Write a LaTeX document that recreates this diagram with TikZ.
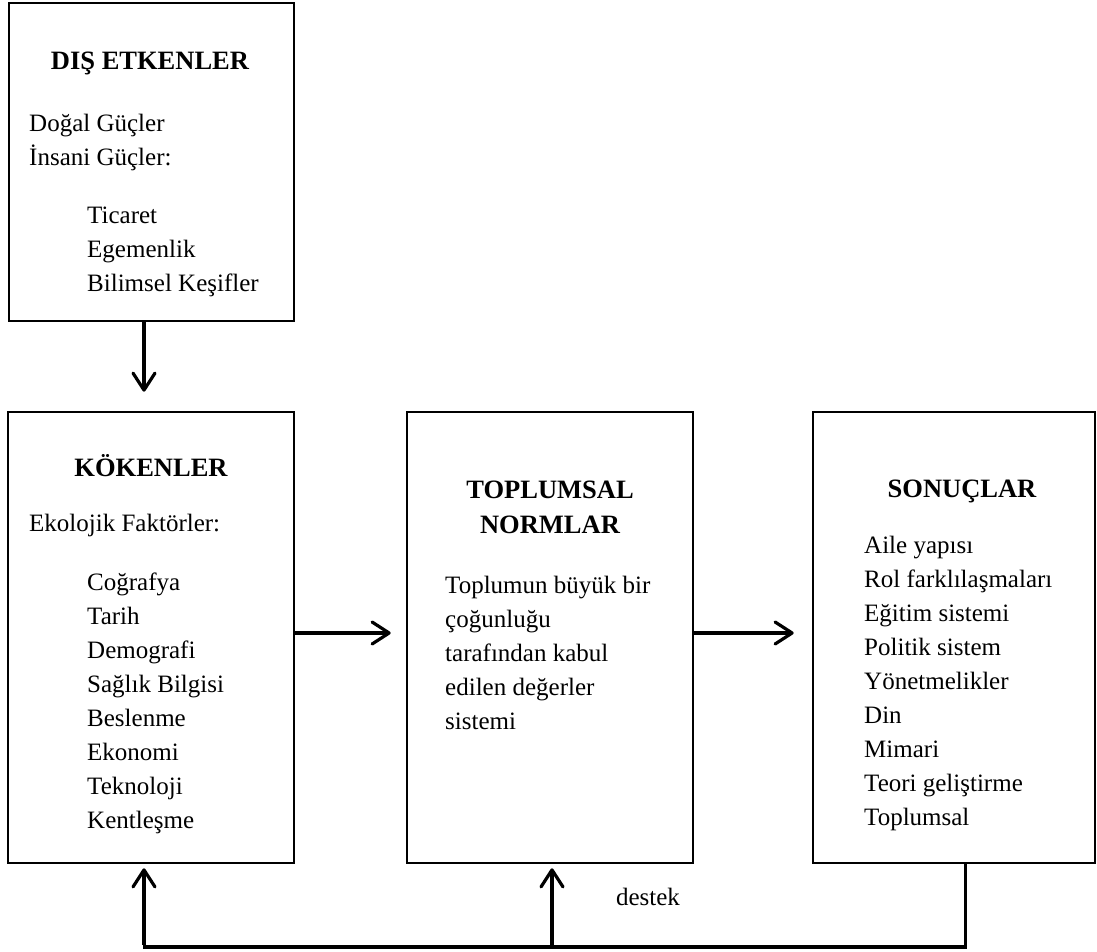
\documentclass[tikz,border=0pt]{standalone}
\usepackage{fontspec}
\setmainfont{Liberation Serif}
\usetikzlibrary{arrows.meta}

\begin{document}
\begin{tikzpicture}[x=1pt,y=-1pt,
  box/.style={draw,line width=2.6pt,rectangle,inner sep=0pt},
  title/.style={anchor=base,inner sep=0pt,align=center,
    font=\fontsize{26.5}{35}\selectfont\bfseries},
  txt/.style={anchor=base west,inner sep=0pt,align=left},
  arr/.style={line width=3.2pt,-{Straight Barb[length=17pt,width=22pt,round]}},
  backline/.style={line width=4.5pt}]
\useasboundingbox (0,0) rectangle (1097,952);
\fontsize{25}{34}\selectfont

% boxes
\node[box,minimum width=285pt,minimum height=318pt] (dis) at (151.5,162) {};
\node[box,minimum width=286pt,minimum height=451pt] (kok) at (151,637.5) {};
\node[box,minimum width=286pt,minimum height=451pt] (norm) at (550,637.5) {};
\node[box,minimum width=282pt,minimum height=451pt] (son) at (954,637.5) {};

% texts (multi-line nodes sit on their last baseline)
\node[title] (t0) at (150,70) {DIŞ ETKENLER};
\node[txt] (d0) at (29,166) {Doğal Güçler\\İnsani Güçler:};
\node[txt] (d1) at (87,291) {Ticaret\\Egemenlik\\Bilimsel Keşifler};

\node[title] (t1) at (151,476) {KÖKENLER};
\node[txt] (k0) at (29,531) {Ekolojik Faktörler:};
\node[txt] (k1) at (87,828) {Coğrafya\\Tarih\\Demografi\\Sağlık Bilgisi\\Beslenme\\Ekonomi\\Teknoloji\\Kentleşme};

\node[title] (t2) at (550,533) {TOPLUMSAL\\NORMLAR};
\node[txt] (n0) at (445,729) {Toplumun büyük bir\\çoğunluğu\\tarafından kabul\\edilen değerler\\sistemi};

\node[title] (t3) at (962,497) {SONUÇLAR};
\node[txt] (s0) at (864,825) {Aile yapısı\\Rol farklılaşmaları\\Eğitim sistemi\\Politik sistem\\Yönetmelikler\\Din\\Mimari\\Teori geliştirme\\Toplumsal};

\node[anchor=base,inner sep=0pt] (dst) at (648,905) {destek};

% connectors
\draw[arr,shorten >=19pt] ([xshift=-7.5pt]dis.south) -- ([xshift=-7pt]kok.north);
\draw[arr,shorten >=15pt] ([yshift=4.5pt]kok.east) -- ([yshift=4.5pt]norm.west);
\draw[arr,shorten >=18pt] ([yshift=4.5pt]norm.east) -- ([yshift=4.5pt]son.west);

\path ([xshift=-7pt]kok.south) coordinate (kb)
      ([xshift=2pt]norm.south) coordinate (nb)
      ([xshift=11pt]son.south) coordinate (sb);
\coordinate (base) at (0,947);
\draw[line width=3pt] (sb) -- (sb |- base);
\draw[backline] ([xshift=1.5pt]sb |- base) -- ([xshift=-1.5pt]kb |- base);
\draw[arr,shorten >=4pt] ([yshift=2pt]kb |- base) -- (kb);
\draw[arr,shorten >=4pt] ([yshift=2pt]nb |- base) -- (nb);
\end{tikzpicture}
\end{document}
